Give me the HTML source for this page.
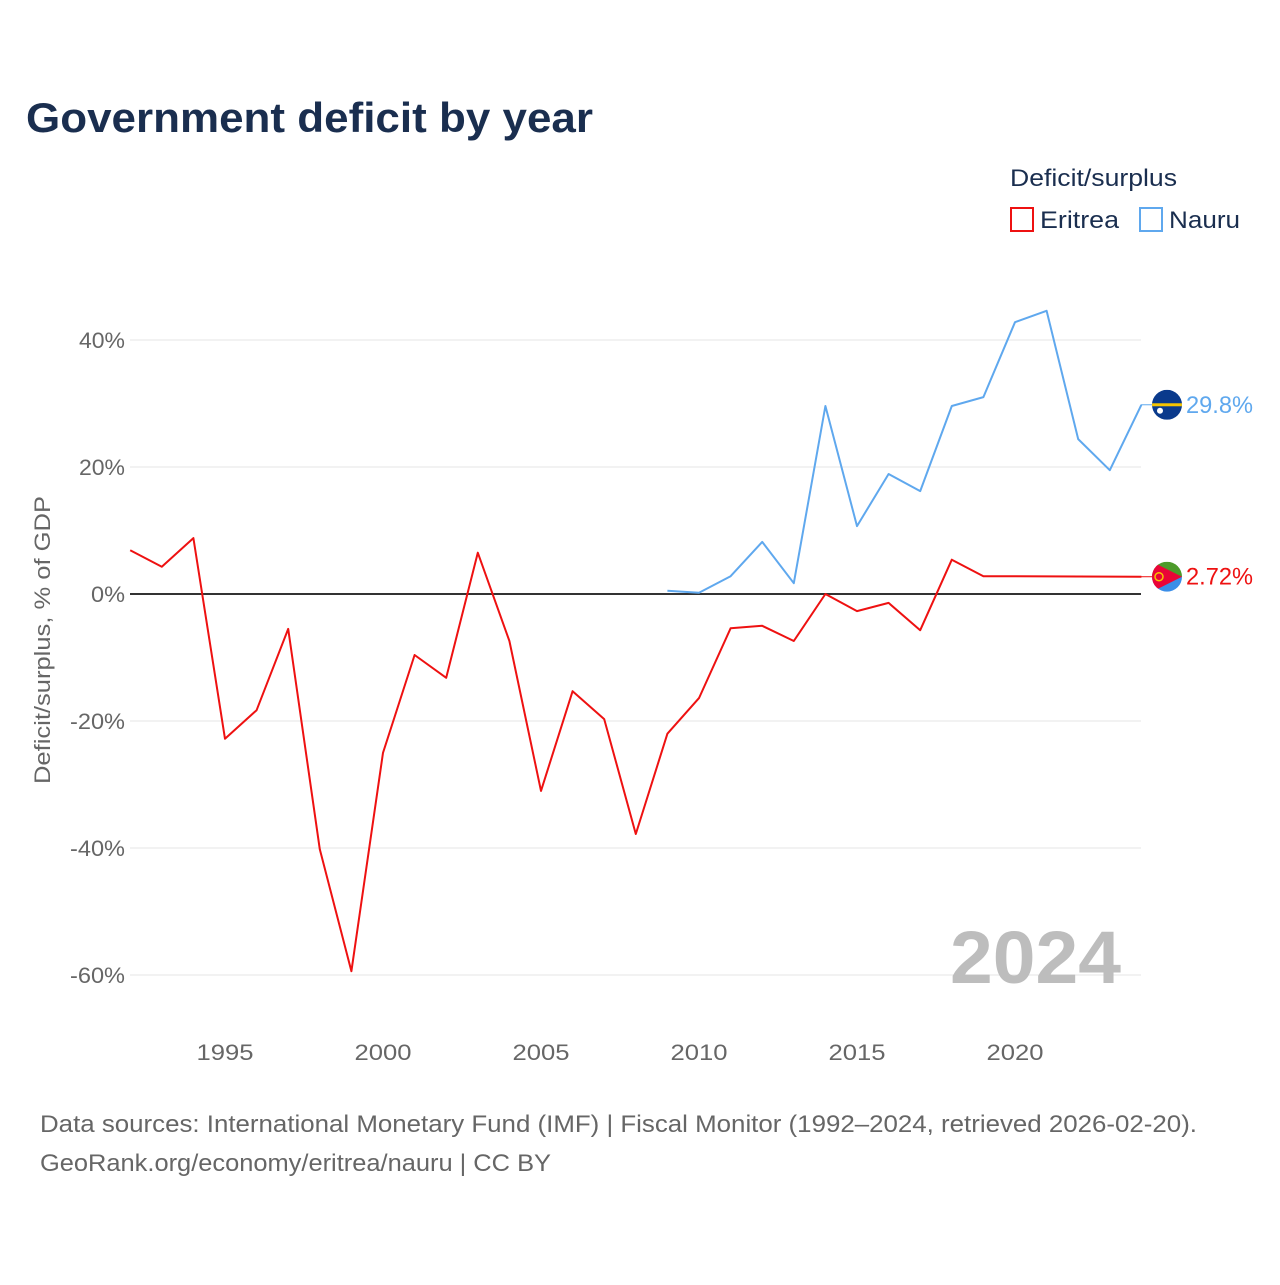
<!DOCTYPE html>
<html><head><meta charset="utf-8"><style>
body{margin:0;background:#fff;font-family:"Liberation Sans",sans-serif;}
svg text{font-family:"Liberation Sans",sans-serif;}
</style></head><body>
<svg width="1280" height="1280" viewBox="0 0 1280 1280" xmlns="http://www.w3.org/2000/svg" id="chart">
<defs>
<clipPath id="cE"><circle cx="1167" cy="576.7" r="15"/></clipPath>
<clipPath id="cN"><circle cx="1167" cy="404.8" r="15"/></clipPath>
</defs>
<text x="26" y="132" font-size="42" font-weight="bold" fill="#1a2e4f" textLength="567" lengthAdjust="spacingAndGlyphs">Government deficit by year</text>
<g>
<text x="1010" y="186" font-size="24" fill="#1a2e4f" textLength="167" lengthAdjust="spacingAndGlyphs">Deficit/surplus</text>
<g><rect x="1011" y="208" width="22" height="23" fill="none" stroke="#ee1111" stroke-width="2"/><text x="1040" y="228" font-size="24" fill="#1a2e4f" textLength="79" lengthAdjust="spacingAndGlyphs">Eritrea</text></g>
<g><rect x="1140" y="208" width="22" height="23" fill="none" stroke="#5fa8ee" stroke-width="2"/><text x="1169" y="228" font-size="24" fill="#1a2e4f" textLength="71" lengthAdjust="spacingAndGlyphs">Nauru</text></g>
</g>
<g id="grid"></g><g id="series"></g>
<text transform="translate(50,640) rotate(-90)" text-anchor="middle" font-size="22" fill="#666" textLength="288" lengthAdjust="spacingAndGlyphs">Deficit/surplus, % of GDP</text>
<text x="950" y="983" font-size="74" font-weight="bold" fill="#bdbdbd" textLength="171" lengthAdjust="spacingAndGlyphs">2024</text>
<text x="40" y="1132" font-size="24" fill="#666" textLength="1157" lengthAdjust="spacingAndGlyphs">Data sources: International Monetary Fund (IMF) | Fiscal Monitor (1992–2024, retrieved 2026-02-20).</text>
<text x="40" y="1171" font-size="24" fill="#666" textLength="511" lengthAdjust="spacingAndGlyphs">GeoRank.org/economy/eritrea/nauru | CC BY</text>
</svg>
<script>
const yTicks=[40,20,0,-20,-40,-60];
const xTicks=[1995,2000,2005,2010,2015,2020];
const years=[];for(let y=1992;y<=2024;y++)years.push(y);
const eritrea=[6.9,4.3,8.8,-22.8,-18.3,-5.5,-40.2,-59.4,-25,-9.6,-13.2,6.5,-7.4,-31,-15.3,-19.7,-37.8,-22,-16.4,-5.4,-5,-7.4,0,-2.7,-1.4,-5.7,5.4,2.8,null,null,null,null,2.72];
const nauru=[null,null,null,null,null,null,null,null,null,null,null,null,null,null,null,null,null,0.5,0.2,2.8,8.2,1.7,29.6,10.7,18.9,16.2,29.6,31,42.8,44.6,24.4,19.5,29.8];
const NS="http://www.w3.org/2000/svg";
const X=v=>130.2+(v-1992)*31.6;
const Y=v=>594-v*6.35;
const grid=document.getElementById('grid'),ser=document.getElementById('series');
function mk(tag,at,par){const e=document.createElementNS(NS,tag);for(const k in at)e.setAttribute(k,at[k]);par.appendChild(e);return e;}
yTicks.forEach(t=>{
 const l=mk('line',{x1:130,x2:1141,y1:Y(t),y2:Y(t),stroke:t===0?'#333':'#e6e6e6','stroke-width':t===0?2:1},grid);
 
 
 const s=t+'%';
 const digits=String(Math.abs(t)).length;
 const w=digits*12+22+(t<0?9:0);
 const tx=mk('text',{x:125,y:Y(t)+8,'text-anchor':'end','font-size':22,fill:'#666',textLength:w,lengthAdjust:'spacingAndGlyphs'},grid);tx.textContent=s;
 
 
});
xTicks.forEach(t=>{
 const tx=mk('text',{x:X(t),y:1060,'text-anchor':'middle','font-size':22,fill:'#666',textLength:57,lengthAdjust:'spacingAndGlyphs'},grid);tx.textContent=t;
 
 
});
function line(vals,color,name){
 let pts=[];vals.forEach((v,i)=>{if(v!==null)pts.push(X(years[i]).toFixed(1)+','+Y(v).toFixed(1));});
 const p=mk('polyline',{points:pts.join(' '),fill:'none',stroke:color,'stroke-width':2,'stroke-linejoin':'round'},ser);
 
 
}
line(eritrea,'#ee1111','eritrea-line');
line(nauru,'#5fa8ee','nauru-line');
function endLabel(val,color,name,clip,flag){
 const y=Y(val);
 mk('line',{x1:1141,x2:1152,y1:y,y2:y,stroke:color,'stroke-width':1},ser);
 const g=mk('g',{'clip-path':'url(#'+clip+')'},ser);
 
 
 flag(g,1167,y);
 const t=mk('text',{x:1186,y:y+8,'font-size':24,fill:color,textLength:67,lengthAdjust:'spacingAndGlyphs'},ser);t.textContent=val+'%';
 
 
}
endLabel(29.8,'#5fa8ee','nauru','cN',(g,x,y)=>{mk('rect',{x:x-15,y:y-15,width:30,height:30,fill:'#0a3a8c'},g);mk('rect',{x:x-15,y:y-1.5,width:30,height:3,fill:'#f5c400'},g);mk('circle',{cx:x-7,cy:y+6,r:3,fill:'#fff'},g);});
endLabel(2.72,'#ee1111','eritrea','cE',(g,x,y)=>{mk('rect',{x:x-15,y:y,width:30,height:15,fill:'#3a8ee8'},g);mk('rect',{x:x-15,y:y-15,width:30,height:15,fill:'#4c9a2a'},g);mk('path',{d:`M${x-15},${y-15} L${x+15},${y} L${x-15},${y+15}Z`,fill:'#ea0437'},g);mk('circle',{cx:x-8,cy:y,r:4,fill:'none',stroke:'#f5c400','stroke-width':1.5},g);});
</script>
</body></html>
